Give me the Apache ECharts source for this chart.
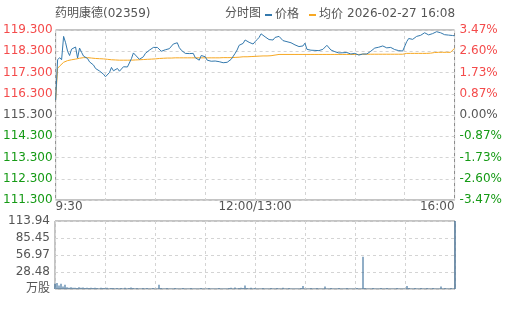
<!DOCTYPE html>
<html>
<head>
<meta charset="utf-8">
<script src="https://cdn.jsdelivr.net/npm/echarts@6/dist/echarts.min.js"></script>
<style>html,body{margin:0;padding:0;background:#fff}#c{width:505px;height:310px}</style>
</head>
<body>
<div id="c"></div>
<script>
const titleText = '药明康德(02359)';
const subTitle = '分时图';
const dateText = '2026-02-27 16:08';
const seriesNames = ['价格', '均价'];
const basePrice = 115.3;
const timeLabels = ['9:30', '12:00/13:00', '16:00'];
const volTickLabels = ['万股', '28.48', '56.97', '85.45', '113.94'];
const volMax = 113.94;

const prices = [
116.00,117.90,118.00,117.90,119.00,118.70,118.30,118.10,118.40,118.45,
118.50,117.98,118.45,118.25,118.07,118.04,117.96,117.80,117.75,117.65,
117.49,117.44,117.37,117.30,117.22,117.10,117.04,117.30,117.54,117.38,
117.44,117.49,117.36,117.42,117.57,117.58,117.56,117.56,117.95,118.22,
118.12,118.04,117.92,117.87,118.04,118.20,118.28,118.35,118.42,118.48,
118.55,118.48,118.39,118.30,118.32,118.37,118.39,118.42,118.50,118.64,
118.67,118.70,118.47,118.35,118.28,118.20,118.12,118.19,118.18,118.20,
118.00,117.92,117.88,118.10,118.12,118.04,117.88,117.80,117.83,117.85,
117.84,117.84,117.81,117.79,117.76,117.76,117.78,117.85,117.92,118.00,
118.20,118.36,118.58,118.55,118.67,118.83,118.75,118.72,118.68,118.64,
118.75,118.85,118.95,119.12,119.06,118.98,118.90,118.85,118.83,118.83,
118.95,119.00,119.00,118.93,118.80,118.77,118.75,118.80,118.70,118.64,
118.60,118.55,118.52,118.52,118.55,118.68,118.39,118.40,118.35,118.32,
118.34,118.36,118.33,118.34,118.39,118.48,118.58,118.52,118.36,118.30,
118.28,118.26,118.22,118.15,118.23,118.32,118.24,118.19,118.17,118.18,
118.20,118.15,118.12,118.15,118.17,118.23,118.17,118.25,118.30,118.36,
118.45,118.49,118.49,118.50,118.55,118.48,118.46,118.50,118.48,118.44,
118.38,118.36,118.33,118.32,118.31,118.33,118.75,118.90,118.96,118.86,
118.95,119.00,119.03,119.05,119.09,119.17,119.08,119.07,119.10,119.13,
119.17,119.22,119.15,119.17,119.11,119.08,119.06,119.06,119.05,119.04,
119.03
];

const avgPrices = [
116.00,117.50,117.60,117.68,117.78,117.82,117.86,117.88,117.90,117.91,
117.93,117.95,117.97,117.99,118.00,118.00,118.00,117.99,117.98,117.97,
117.96,117.96,117.95,117.95,117.94,117.93,117.92,117.91,117.90,117.89,
117.89,117.88,117.88,117.88,117.88,117.88,117.88,117.88,117.88,117.88,
117.89,117.89,117.90,117.90,117.91,117.91,117.92,117.92,117.93,117.94,
117.94,117.95,117.96,117.97,117.97,117.97,117.98,117.98,117.98,117.98,
117.99,117.99,117.99,117.99,117.99,117.99,117.99,117.99,117.99,117.99,
117.99,117.99,117.99,117.99,117.99,117.99,117.99,117.99,117.99,117.99,
117.99,117.99,117.99,117.99,118.00,118.00,118.00,118.00,118.00,118.00,
118.01,118.01,118.02,118.03,118.04,118.04,118.04,118.05,118.05,118.06,
118.06,118.07,118.07,118.07,118.08,118.08,118.08,118.09,118.09,118.10,
118.12,118.14,118.15,118.15,118.15,118.15,118.15,118.15,118.15,118.15,
118.15,118.15,118.15,118.15,118.15,118.15,118.15,118.15,118.15,118.15,
118.15,118.15,118.15,118.15,118.15,118.15,118.15,118.15,118.15,118.15,
118.15,118.15,118.15,118.15,118.15,118.15,118.15,118.15,118.15,118.15,
118.15,118.15,118.15,118.16,118.16,118.16,118.16,118.16,118.16,118.16,
118.16,118.16,118.16,118.16,118.16,118.16,118.16,118.16,118.16,118.16,
118.16,118.16,118.16,118.16,118.16,118.16,118.20,118.20,118.20,118.20,
118.20,118.20,118.20,118.20,118.20,118.20,118.20,118.21,118.21,118.22,
118.24,118.25,118.25,118.25,118.25,118.25,118.25,118.25,118.25,118.25,
118.44
];

const volumes = [
9,10,6,9,4,7,3,2,3,2,
2,1.5,3,2,2.5,1.5,2,1.5,2,1.5,
2,1.5,1,2,1.5,1.5,2,1,1.5,1.5,
1,1.5,1,1.5,1,2,1,1.5,2.5,1.5,
1,1.5,1,1,1.5,1,1.5,1,1,1.5,
1,1,7,1.5,1,1,1.5,1,1,1,
1.5,1,1,1,1.5,1,1,1,1.5,1,
1,1,1,1.5,1,1,1,1.5,1,1,
1,1,1.5,1,1,1,1,1.5,2,1,
2.5,1,1.5,2,1.5,6,1.5,1,2,1,
1.5,1,1,1,1.5,1,1,1,1.5,1,
1,1.5,1,1,2,1,1,1.5,1,1,
1,1,1,1.5,5,1,1,1,1.5,1,
1,1.5,1,1,1,4,1,1,1.5,1,
1,1,1.5,1,1,1,1.5,1,1,1,
1,1.5,1,1,54,1.5,1,1,1,1.5,
1,1,1,1.5,1,1,1.5,1,1,1,
1,1.5,1,1,1,1,5,1.5,1,1,
1.5,1,1,1.5,1,1,1.5,1,1,1.5,
1,1,1,4,1,1.5,1,1,1.5,1,
113.94
];

const categories = prices.map((_, i) => String(i));

const FONT = 'DejaVu Sans, Noto Sans CJK SC, sans-serif';
const LINE_BLUE = '#3479ad';
const AVG_ORANGE = '#f7a823';
const VOL_BLUE = '#245f8f';
const RED = '#f44b4b';
const GREEN = '#159a15';
const GRAY = '#555';

function priceColor(v) {
  if (Math.abs(v) < 1e-9) return GRAY;
  return v > 0 ? RED : GREEN;
}

const chart = echarts.init(document.getElementById('c'), null, {renderer: 'canvas'});
chart.setOption({
  animation: false,
  backgroundColor: '#fff',
  textStyle: {fontFamily: FONT},
  title: [
    {text: titleText, left: 50, top: 3, textStyle: {fontSize: 12, fontWeight: 'normal', color: GRAY, fontFamily: FONT}},
    {text: subTitle, left: 220, top: 3, textStyle: {fontSize: 12, fontWeight: 'normal', color: GRAY, fontFamily: FONT}},
    {text: dateText, left: 342, top: 3, textStyle: {fontSize: 12, fontWeight: 'normal', color: GRAY, fontFamily: FONT}}
  ],
  legend: {
    data: seriesNames,
    left: 260, top: 4,
    icon: 'rect', itemWidth: 7, itemHeight: 2, itemGap: 10,
    textStyle: {fontSize: 12, color: GRAY, fontFamily: FONT, padding: [0, 0, 0, -2]}
  },
  grid: [
    {left: 55, right: 50, top: 30, height: 170, show: true, borderColor: '#888', borderWidth: 1, backgroundColor: 'transparent'},
    {left: 55, right: 50, top: 221, height: 68, show: true, borderColor: '#888', borderWidth: 1, backgroundColor: 'transparent'}
  ],
  xAxis: [
    {
      type: 'category', gridIndex: 0, data: categories, boundaryGap: false,
      axisLine: {show: false}, axisTick: {show: false},
      axisLabel: {
        interval: (i) => i % 100 === 0,
        formatter: (v, i) => timeLabels[Math.round(Number(v) / 100)] || '',
        color: GRAY, fontSize: 12, fontFamily: FONT, margin: 1,
        alignMinLabel: 'left', alignMaxLabel: 'right'
      },
      splitLine: {show: true, interval: (i) => i % 25 === 0, lineStyle: {color: '#d4d4d4', type: [3, 3]}}
    },
    {
      type: 'category', gridIndex: 1, data: categories, boundaryGap: false,
      axisLine: {show: false}, axisTick: {show: false}, axisLabel: {show: false},
      splitLine: {show: true, interval: (i) => i % 25 === 0, lineStyle: {color: '#d4d4d4', type: [3, 3]}}
    }
  ],
  yAxis: [
    {
      type: 'value', gridIndex: 0, min: -4, max: 4, interval: 1, position: 'left',
      axisLine: {show: false}, axisTick: {show: false},
      axisLabel: {
        formatter: (v) => (basePrice + v).toFixed(3),
        color: (v) => priceColor(Number(v)),
        fontSize: 12, fontFamily: FONT, margin: 3
      },
      splitLine: {show: true, lineStyle: {color: '#d4d4d4', type: [3, 3]}}
    },
    {
      type: 'value', gridIndex: 0, min: -4, max: 4, interval: 1, position: 'right',
      axisLine: {show: false}, axisTick: {show: false},
      axisLabel: {
        formatter: (v) => (v / basePrice * 100).toFixed(2) + '%',
        color: (v) => priceColor(Number(v)),
        fontSize: 12, fontFamily: FONT, margin: 5
      },
      splitLine: {show: false}
    },
    {
      type: 'value', gridIndex: 1, min: 0, max: volMax, interval: volMax / 4,
      axisLine: {show: false}, axisTick: {show: false},
      axisLabel: {
        formatter: (v) => volTickLabels[Math.round(v / (volMax / 4))],
        color: GRAY, fontSize: 12, fontFamily: FONT, margin: 5
      },
      splitLine: {show: true, lineStyle: {color: '#d4d4d4', type: [3, 3]}}
    }
  ],
  series: [
    {
      name: seriesNames[0], type: 'line', xAxisIndex: 0, yAxisIndex: 0,
      data: prices.map(p => p - basePrice), showSymbol: false, symbol: 'none',
      lineStyle: {width: 1, color: LINE_BLUE}, itemStyle: {color: LINE_BLUE}, z: 3
    },
    {
      name: seriesNames[1], type: 'line', xAxisIndex: 0, yAxisIndex: 0,
      data: avgPrices.map(p => p - basePrice), showSymbol: false, symbol: 'none',
      lineStyle: {width: 1, color: AVG_ORANGE}, itemStyle: {color: AVG_ORANGE}, z: 2
    },
    {
      name: 'vol', type: 'bar', xAxisIndex: 1, yAxisIndex: 2,
      data: volumes, barWidth: 1, itemStyle: {color: VOL_BLUE}
    }
  ]
});
</script>
</body>
</html>
